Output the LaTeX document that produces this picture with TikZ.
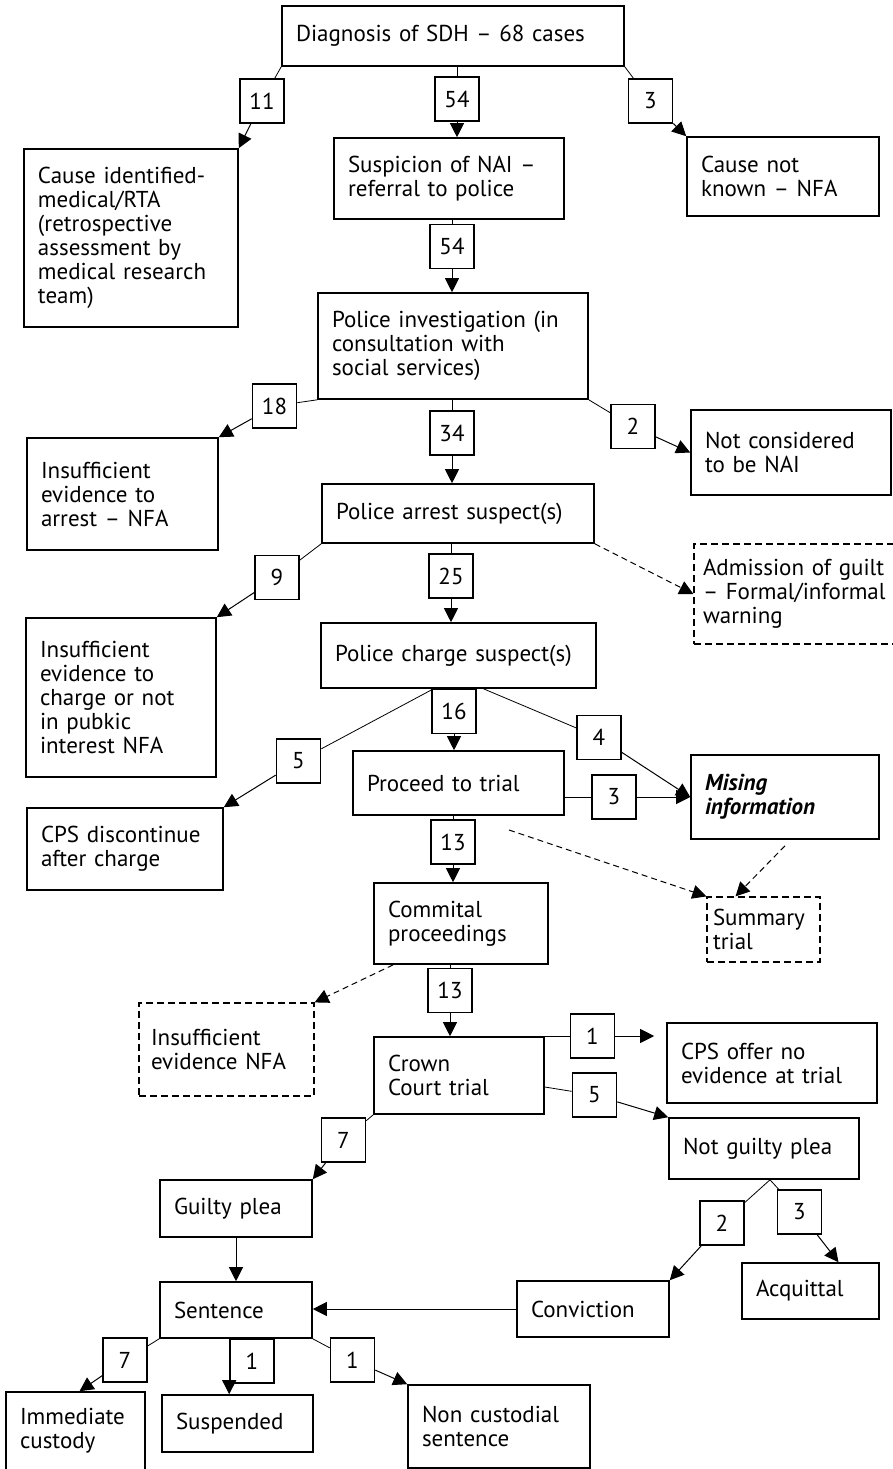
\documentclass[tikz,border=0pt]{standalone}
\usepackage{fontspec}
\setmainfont{PT Sans}
\usetikzlibrary{arrows.meta}

\begin{document}
\begin{tikzpicture}[x=0.5pt,y=-0.5pt,font=\fontsize{11.5}{12}\selectfont,
stage/.style={draw,line width=0.8pt,align=left,inner xsep=7pt,inner ysep=2pt},
dstage/.style={stage,line width=0.6pt,dash pattern=on 3.5pt off 2pt},
num/.style={draw,line width=0.8pt,fill=white,minimum width=22pt,minimum height=22pt,inner sep=0pt},
flow/.style={line width=0.5pt,-{Triangle[length=7pt,width=7pt]}},
dflow/.style={flow,dash pattern=on 3pt off 2pt}]
\useasboundingbox (0,0) rectangle (893,1469);
\node[stage,text width=157pt,minimum height=30pt] (diag) at (453,36) {Diagnosis of SDH -- 68 cases};
\node[stage,text width=93pt,minimum height=89pt] (cause) at (131,238) {Cause identified-\\medical/RTA\\(retrospective\\assessment by\\medical research\\team)};
\node[stage,text width=101pt,minimum height=40.5pt] (susp) at (449,178.5) {Suspicion of NAI --\\referral to police};
\node[stage,text width=82pt,minimum height=39.5pt] (cnk) at (783,176.5) {Cause not\\known -- NFA};
\node[stage,text width=121pt,minimum height=53pt] (polinv) at (453,346) {Police investigation (in\\consultation with\\social services)};
\node[stage,text width=81.5pt,minimum height=56pt] (insarr) at (122.5,494) {Insufficient\\evidence to\\arrest -- NFA};
\node[stage,text width=86pt,minimum height=42.5pt] (notcon) at (791,452.5) {Not considered\\to be NAI};
\node[stage,text width=122pt,minimum height=29.5pt] (arrest) at (458,513.5) {Police arrest suspect(s)};
\node[dstage,text width=93pt,inner xsep=4.5pt,minimum height=50pt] (admit) at (796,594) {Admission of guilt\\-- Formal/informal\\warning};
\node[stage,text width=81pt,minimum height=79.5pt] (inschg) at (121,697.5) {Insufficient\\evidence to\\charge or not\\in pubkic\\interest NFA};
\node[stage,text width=123.5pt,minimum height=32.5pt] (charge) at (458.5,655.5) {Police charge suspect(s)};
\node[stage,text width=91.5pt,minimum height=32pt] (proceed) at (458.5,783) {Proceed to trial};
\node[stage,text width=80pt,minimum height=42pt] (missing) at (785,797) {\textbf{\textit{Mising\\information}}};
\node[stage,text width=84pt,minimum height=41pt] (cpsdisc) at (125,849) {CPS discontinue\\after charge};
\node[stage,text width=73pt,minimum height=40.5pt] (commit) at (461,923.5) {Commital\\proceedings};
\node[dstage,text width=50.5pt,inner xsep=3pt,minimum height=32.5pt] (summary) at (763.5,929.5) {Summary\\trial};
\node[dstage,text width=75.5pt,inner xsep=6pt,minimum height=46.5pt] (insnfa) at (226.5,1049.5) {Insufficient\\evidence NFA\\[6pt]};
\node[stage,text width=71pt,minimum height=38.5pt] (crown) at (459,1075.5) {Crown\\Court trial};
\node[stage,text width=91pt,minimum height=40pt] (cpsoffer) at (772,1063) {CPS offer no\\evidence at trial};
\node[stage,text width=81pt,minimum height=30.5pt] (notguilty) at (764,1148.5) {Not guilty plea};
\node[stage,text width=62pt,minimum height=28.5pt] (guilty) at (236,1208.5) {Guilty plea};
\node[stage,text width=54.5pt,minimum height=28pt] (acquit) at (810.5,1291) {Acquittal};
\node[stage,text width=62pt,minimum height=28pt] (conviction) at (593,1309) {Conviction};
\node[stage,text width=62pt,minimum height=28pt] (sentence) at (236,1310) {Sentence};
\node[stage,text width=55.5pt,minimum height=39pt] (immediate) at (75.5,1431) {Immediate\\custody};
\node[stage,text width=61.5pt,minimum height=28.5pt] (suspended) at (237.5,1423.5) {Suspended};
\node[stage,text width=77pt,minimum height=41.5pt] (noncust) at (499,1426.5) {Non custodial\\sentence};
\node[num] (n11) at (262,101) {11};
\node[num] (n54a) at (457,99) {54};
\node[num] (n3a) at (650.5,101) {3};
\node[num] (n54b) at (452,246.5) {54};
\node[num] (n18) at (274.5,406) {18};
\node[num] (n34) at (452,433) {34};
\node[num] (n2a) at (633,426.5) {2};
\node[num] (n9) at (277,577.5) {9};
\node[num] (n25) at (451,576) {25};
\node[num] (n16) at (454,711.5) {16};
\node[num] (n4) at (599,737.5) {4};
\node[num] (n5a) at (298.5,761) {5};
\node[num] (n3b) at (614,797) {3};
\node[num] (n13a) at (453,842) {13};
\node[num] (n13b) at (450,990.5) {13};
\node[num] (n1a) at (592.5,1036) {1};
\node[num] (n5b) at (594.5,1095) {5};
\node[num] (n7a) at (343.5,1140) {7};
\node[num] (n2b) at (722,1223) {2};
\node[num] (n3c) at (799.5,1212) {3};
\node[num] (n7b) at (125,1360) {7};
\node[num] (n1b) at (252,1361) {1};
\node[num] (n1c) at (352.5,1360) {1};
\draw (diag.south west) -- (n11);
\draw[flow] (n11) -- (cause.north east);
\draw (diag.south -| n54a) -- (n54a.north);
\draw[flow] (n54a.south) -- (n54a.south |- susp.north);
\draw (diag.south east) -- (n3a);
\draw[flow] (n3a) -- (cnk.north west);
\draw (susp.south -| n54b) -- (n54b.north);
\draw[flow] (n54b.south) -- (n54b.south |- polinv.north);
\draw (polinv.south west) -- (n18);
\draw[flow] (n18) -- (insarr.north east);
\draw (polinv.south -| n34) -- (n34.north);
\draw[flow] (n34.south) -- (n34.south |- arrest.north);
\draw (polinv.south east) -- (n2a);
\draw[flow] (n2a) -- (notcon.west);
\draw (arrest.south west) -- (n9);
\draw[flow] (n9) -- (inschg.north east);
\draw (arrest.south -| n25) -- (n25.north);
\draw[flow] (n25.south) -- (n25.south |- charge.north);
\draw[dflow] (arrest.south east) -- (admit.west);
\draw ([xshift=-12.5pt]charge.south) -- (n5a);
\draw[flow] (n5a) -- (cpsdisc.north east);
\draw (charge.south -| n16) -- (n16.north);
\draw[flow] (n16.south) -- (n16.south |- proceed.north);
\draw ([xshift=12.5pt]charge.south) -- (n4);
\draw[flow] (n4) -- (missing.west);
\draw (proceed.east |- n3b) -- (n3b.west);
\draw[flow] (n3b.east) -- (missing.west);
\draw (proceed.south -| n13a) -- (n13a.north);
\draw[flow] (n13a.south) -- (n13a.south |- commit.north);
\coordinate (sumtail) at (509,830);
\draw[dflow] (sumtail) -- (summary.north west);
\draw[dflow] ([yshift=-3pt]missing.south) -- ([xshift=-14pt]summary.north);
\draw (commit.south -| n13b) -- (n13b.north);
\draw[flow] (n13b.south) -- (n13b.south |- crown.north);
\draw[dflow] ([xshift=10pt]commit.south west) -- (insnfa.north east);
\draw (crown.east |- n1a) -- (n1a.west);
\draw[flow] (n1a.east) -- ([xshift=-6pt]cpsoffer.west |- n1a);
\draw ([yshift=-5.75pt]crown.east) -- (n5b);
\draw[flow] (n5b) -- (notguilty.north west);
\draw (crown.south west) -- (n7a);
\draw[flow] (n7a) -- (guilty.north east);
\draw[flow] (guilty.south) -- (sentence.north);
\draw ([xshift=3pt]notguilty.south) -- (n2b);
\draw ([xshift=3pt]notguilty.south) -- (n3c);
\draw[flow] (n2b) -- (conviction.north east);
\draw[flow] (n3c) -- ([xshift=14pt]acquit.north);
\draw[flow] (conviction.west) -- (conviction.west -| sentence.east);
\draw (sentence.south west) -- (n7b);
\draw[flow] (n7b) -- ([xshift=2pt]immediate.north);
\draw[flow] (n1b.west |- sentence.south) -- (n1b.west |- suspended.north);
\draw (sentence.south east) -- (n1c);
\draw[flow] (n1c) -- (noncust.north west);
\end{tikzpicture}
\end{document}
